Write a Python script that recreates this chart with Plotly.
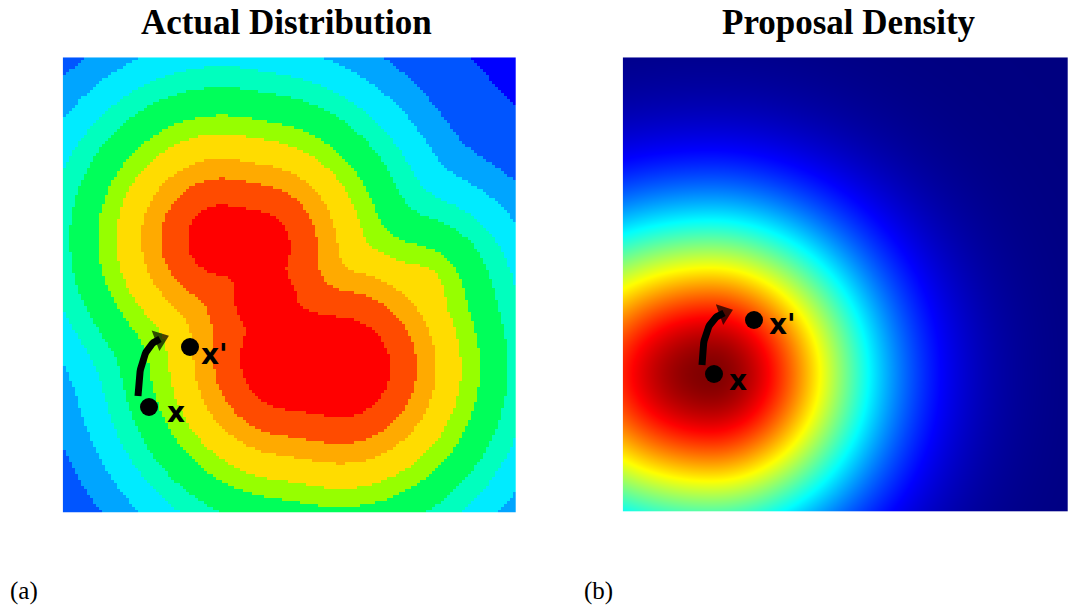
import numpy as np
import plotly.graph_objects as go

# ---------------- data (picture pixel coordinates) ----------------
# Left panel: the "actual distribution" is built from cone-shaped components
# (segment start, segment end, height offset) blended by a soft max
seg_x0 = [222, 290, 265, 420]
seg_y0 = [240, 360, 300, 290]
seg_x1 = [255, 340, 265, 420]
seg_y1 = [246, 368, 300, 290]
seg_a = [-10, 5, -15, -95]
soft_T = 8.0

# Points read on each contour boundary (between band k-1 and band k)
bnd_1 = [(463, 57), (517, 100)]
bnd_2 = [(387, 57), (400, 79), (443, 120), (517, 154), (62, 437), (92, 507), (63, 80), (120, 57)]
bnd_3 = [(323, 57), (400, 129), (440, 167), (517, 193), (75, 384), (63, 370), (99, 457), (139, 510),
         (63, 110), (170, 57)]
bnd_4 = [(290, 83), (160, 93), (70, 160), (360, 133), (427, 177), (495, 244), (112, 384), (139, 450),
         (172, 500), (63, 300), (517, 463), (507, 500), (500, 511)]
bnd_5 = [(290, 117), (74, 244), (472, 244), (122, 384), (516, 384), (513, 360), (503, 427),
         (473, 470), (430, 510)]
bnd_6 = [(290, 143), (94, 244), (390, 244), (155, 384), (492, 384), (290, 500), (490, 360),
         (480, 410), (450, 453), (397, 487), (353, 507)]
bnd_7 = [(290, 160), (114, 244), (345, 244), (177, 384), (470, 384), (290, 487), (473, 360),
         (460, 420), (430, 453), (380, 477), (330, 487)]
bnd_8 = [(290, 183), (134, 244), (325, 244), (209, 384), (440, 384), (290, 470), (440, 360),
         (427, 410), (397, 440), (330, 470)]
bnd_9 = [(290, 197), (160, 244), (307, 244), (235, 384), (420, 384), (290, 447), (430, 360),
         (417, 390), (387, 420), (330, 443)]
bnd_10 = [(193, 240), (210, 215), (260, 213), (290, 237), (300, 283), (327, 313), (380, 320),
          (393, 360), (380, 390), (327, 420), (277, 403), (247, 343), (233, 283), (373, 400)]
boundaries = [bnd_1, bnd_2, bnd_3, bnd_4, bnd_5, bnd_6, bnd_7, bnd_8, bnd_9, bnd_10]

band_colors = ["#0000ff", "#0055ff", "#00a5ff", "#00ebff", "#00ffbe", "#00ff5a",
               "#96ff00", "#ffdc00", "#ffaa00", "#ff4b00", "#ff0000"]

# Right panel: proposal density (Gaussian, wider to the left of its peak)
prop_cx, prop_cy = 710, 374
prop_sx_left, prop_sx_right, prop_sy = 150, 113, 110

# Markers / labels
left_x_pt = (149, 407)
left_xp_pt = (190, 347)
left_x_lab = (176, 412)
left_xp_lab = (214, 354)
left_arrow = [(138, 396), (139, 346), (160, 339)]

right_x_pt = (714, 374)
right_xp_pt = (754, 320)
right_x_lab = (738, 380)
right_xp_lab = (782, 324)
right_arrow = [(702, 365), (702, 320), (724, 313)]

titles = ["Actual Distribution", "Proposal Density"]
title_x = [286, 849]
sublabels = ["(a)", "(b)"]
sublabel_x = [24, 598]

# panel extents
L_X = (62.7, 516.7)
R_X = (622.7, 1068.0)
P_Y = (57.3, 512.3)
W, H = 1068, 610


def field(X, Y):
    hs = []
    for x0, y0, x1, y1, a in zip(seg_x0, seg_y0, seg_x1, seg_y1, seg_a):
        dx, dy = x1 - x0, y1 - y0
        L2 = dx * dx + dy * dy
        if L2 == 0:
            t = 0.0
        else:
            t = np.clip(((X - x0) * dx + (Y - y0) * dy) / L2, 0, 1)
        px, py = x0 + t * dx, y0 + t * dy
        d = np.sqrt((X - px) ** 2 + (Y - py) ** 2)
        hs.append(a - d)
    hs = np.array(hs)
    m = hs.max(axis=0)
    return m + soft_T * np.log(np.exp((hs - m) / soft_T).sum(axis=0))


thr = []
for pts in boundaries:
    p = np.array(pts, dtype=float)
    thr.append(np.mean(field(p[:, 0], p[:, 1])))
thr = np.sort(np.array(thr))

step = 3.0
gx = np.arange(L_X[0] + step / 2, L_X[1], step)
gy = np.arange(P_Y[0] + step / 2, P_Y[1], step)
GX, GY = np.meshgrid(gx, gy)
F = field(GX, GY)
band = np.searchsorted(thr, F, side="right").astype(float)

nb = len(band_colors)
cs = []
for i, c in enumerate(band_colors):
    cs.append([i / nb, c])
    cs.append([(i + 1) / nb, c])

fig = go.Figure()
fig.add_trace(go.Heatmap(x=gx, y=gy, z=band, colorscale=cs, zmin=-0.5, zmax=nb - 0.5,
                         showscale=False, xaxis="x", yaxis="y", hoverinfo="skip"))

# right panel gaussian
rs = 2.0
rx = np.arange(R_X[0] + rs / 2, R_X[1], rs)
ry = np.arange(P_Y[0] + rs / 2, P_Y[1], rs)
RX, RY = np.meshgrid(rx, ry)
SX = np.where(RX < prop_cx, prop_sx_left, prop_sx_right)
G = np.exp(-0.5 * (((RX - prop_cx) / SX) ** 2 + ((RY - prop_cy) / prop_sy) ** 2))
jet = [[0.0, "rgb(0,0,128)"], [0.125, "rgb(0,0,255)"], [0.375, "rgb(0,255,255)"],
       [0.625, "rgb(255,255,0)"], [0.875, "rgb(255,0,0)"], [1.0, "rgb(128,0,0)"]]
fig.add_trace(go.Heatmap(x=rx, y=ry, z=G, colorscale=jet, zmin=0, zmax=1, zsmooth="best",
                         showscale=False, xaxis="x2", yaxis="y2", hoverinfo="skip"))


def bezier(pts, n=30):
    p0, p1, p2 = [np.array(p, float) for p in pts]
    t = np.linspace(0, 1, n)[:, None]
    return (1 - t) ** 2 * p0 + 2 * (1 - t) * t * p1 + t ** 2 * p2


for (ax, ay), arrow, xpt, xppt, xl, xpl in [
    (("x", "y"), left_arrow, left_x_pt, left_xp_pt, left_x_lab, left_xp_lab),
    (("x2", "y2"), right_arrow, right_x_pt, right_xp_pt, right_x_lab, right_xp_lab),
]:
    c = bezier(arrow)
    fig.add_trace(go.Scatter(x=c[:, 0], y=c[:, 1], mode="lines", xaxis=ax, yaxis=ay,
                             line=dict(color="black", width=7),
                             hoverinfo="skip", showlegend=False))
    sizes = [0] * (len(c) - 1) + [19]
    fig.add_trace(go.Scatter(x=c[:, 0], y=c[:, 1], mode="markers", xaxis=ax, yaxis=ay,
                             marker=dict(symbol="triangle-up", size=sizes, angleref="previous",
                                         color="black", line=dict(width=0)),
                             hoverinfo="skip", showlegend=False))
    fig.add_trace(go.Scatter(x=[xpt[0], xppt[0]], y=[xpt[1], xppt[1]], mode="markers",
                             xaxis=ax, yaxis=ay, marker=dict(size=18, color="black"),
                             hoverinfo="skip", showlegend=False))
    for txt, pos in [("x", xl), ("x'", xpl)]:
        fig.add_annotation(x=pos[0], y=pos[1], xref=ax, yref=ay, text="<b>" + txt + "</b>",
                           showarrow=False, xanchor="center", yanchor="middle",
                           font=dict(family="DejaVu Sans", size=28, color="black"))

fig.update_layout(
    width=W, height=H, margin=dict(l=0, r=0, t=0, b=0),
    paper_bgcolor="white", plot_bgcolor="white", showlegend=False,
    xaxis=dict(domain=[L_X[0] / W, L_X[1] / W], range=list(L_X), visible=False),
    yaxis=dict(domain=[1 - P_Y[1] / H, 1 - P_Y[0] / H], range=[P_Y[1], P_Y[0]], visible=False),
    xaxis2=dict(domain=[R_X[0] / W, R_X[1] / W], range=list(R_X), visible=False, anchor="y2"),
    yaxis2=dict(domain=[1 - P_Y[1] / H, 1 - P_Y[0] / H], range=[P_Y[1], P_Y[0]], visible=False,
                anchor="x2"),
)

for txt, xc in zip(titles, title_x):
    fig.add_annotation(x=xc / W, y=1 - 23 / H, xref="paper", yref="paper", text="<b>" + txt + "</b>",
                       showarrow=False, xanchor="center", yanchor="middle",
                       font=dict(family="Liberation Serif", size=35, color="black"))
for txt, xc in zip(sublabels, sublabel_x):
    fig.add_annotation(x=xc / W, y=0.005, xref="paper", yref="paper", text=txt,
                       showarrow=False, xanchor="center", yanchor="bottom",
                       font=dict(family="Liberation Serif", size=25, color="black"))

fig.write_html("out.html")
